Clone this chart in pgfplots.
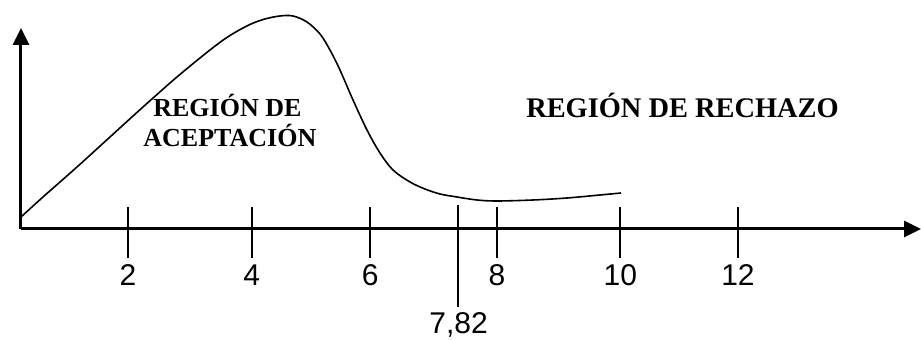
\documentclass[border=0pt]{standalone}
\usepackage{fontspec}
\setmainfont{Liberation Serif}
\newfontfamily\arial{Liberation Sans}
\usepackage{pgfplots}
\pgfplotsset{compat=1.18}
\usetikzlibrary{arrows.meta}
\begin{document}
\begin{tikzpicture}
\begin{axis}[
  x=30.5pt, y=50pt,
  xmin=0.246, xmax=15.0, ymin=0, ymax=2.01,
  axis lines=left,
  axis line style={line width=1.5pt, -{Triangle[width=8pt,length=8.5pt]}},
  clip=false,
  ytick=\empty,
  xtick={2,4.03,5.97,8.05,10.07,12},
  xticklabels={2,4,6,8,10,12},
  xtick align=center,
  major tick length=25.5pt,
  major tick style={line width=1pt, black, yshift=-1.75pt},
  xticklabel style={anchor=base, yshift=-15.5pt, font=\arial\fontsize{15}{17}\selectfont},
]
\addplot[black, line width=0.8pt, smooth, tension=0.55] coordinates {
 (0.246,0.12) (0.607,0.32) (1.164,0.62) (1.705,0.92) (2.246,1.22) (2.803,1.52)
 (3.344,1.79) (3.672,1.935) (4.0,2.045) (4.246,2.10) (4.492,2.13) (4.705,2.13)
 (4.934,2.07) (5.148,1.95) (5.311,1.79) (5.475,1.59) (5.689,1.29) (5.918,0.99)
 (6.131,0.76) (6.344,0.59) (6.623,0.47) (6.869,0.40) (7.115,0.35) (7.393,0.32)
 (7.721,0.29) (8.049,0.28) (8.639,0.29) (9.197,0.31) (9.738,0.34) (10.082,0.36)};
\addplot[black, line width=1pt] coordinates {(7.41,0.24) (7.41,-0.78)};
\node[anchor=base, font=\arial\fontsize{15}{17}\selectfont] at (axis cs:7.42,-1.05) {7,82};
\node[anchor=base, font=\bfseries\fontsize{13}{15}\selectfont] at (axis cs:3.63,1.12) {REGIÓN DE};
\node[anchor=base, font=\bfseries\fontsize{13}{15}\selectfont] at (axis cs:3.67,0.82) {ACEPTACIÓN};
\node[anchor=base, font=\bfseries\fontsize{14.2}{16}\selectfont] at (axis cs:11.09,1.11) {REGIÓN DE RECHAZO};
\coordinate (bl) at (axis cs:-0.098,-1.11);
\coordinate (tr) at (axis cs:15.0,2.29);
\end{axis}
\pgfresetboundingbox
\path[use as bounding box] (bl) rectangle (tr);
\end{tikzpicture}
\end{document}
